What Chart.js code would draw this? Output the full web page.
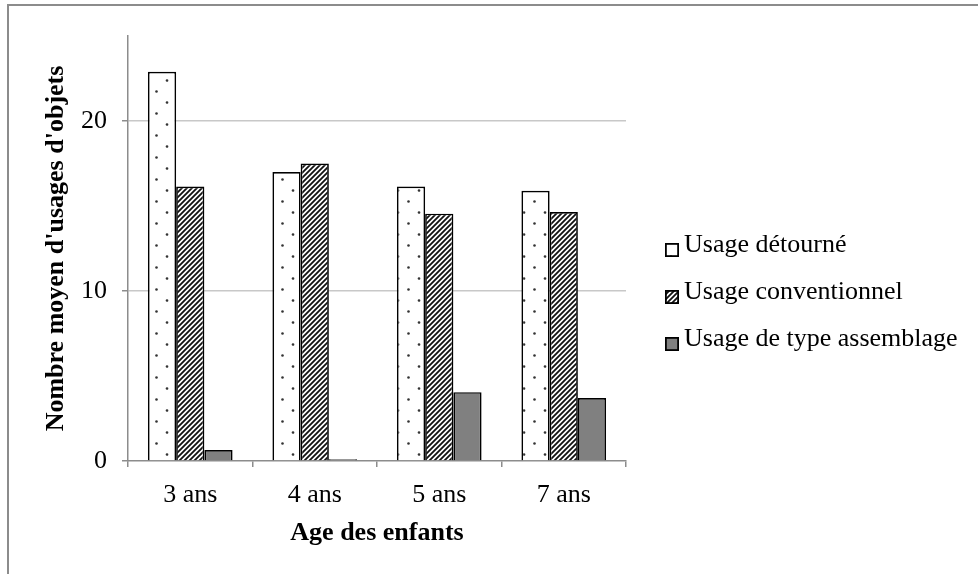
<!DOCTYPE html>
<html>
<head>
<meta charset="utf-8">
<script src="https://cdn.jsdelivr.net/npm/chart.js@4.4.0/dist/chart.umd.min.js"></script>
<style>
  html, body { margin: 0; padding: 0; background: #fff; }
  #wrap { width: 978px; height: 574px; }
</style>
</head>
<body>
<div id="wrap"><canvas id="usageChart" width="978" height="574"></canvas></div>
<script>
const ages = ['3 ans', '4 ans', '5 ans', '7 ans'];
const usageDetourne = [22.9, 17.0, 16.15, 15.9];
const usageConventionnel = [16.15, 17.5, 14.55, 14.65];
const usageAssemblage = [0.65, 0.1, 4.05, 3.7];
const seriesNames = ['Usage détourné', 'Usage conventionnel', 'Usage de type assemblage'];
const yTicks = [0, 10, 20];

const FONT = '"Liberation Serif", "Times New Roman", serif';

// pattern fills (dots / diagonal hatching)
function dotPattern() {
    const c = document.createElement('canvas');
    c.width = 21; c.height = 22;
    const g = c.getContext('2d');
    g.fillStyle = '#fff';
    g.fillRect(0, 0, 21, 22);
    g.fillStyle = '#333';
    g.beginPath(); g.arc(9.5, 3.5, 1.3, 0, Math.PI * 2); g.fill();
    g.beginPath(); g.arc(20, 14.5, 1.3, 0, Math.PI * 2); g.fill();
    g.beginPath(); g.arc(-1, 14.5, 1.3, 0, Math.PI * 2); g.fill();
    return g.createPattern(c, 'repeat');
}

function hatchPattern() {
    const s = 5;
    const c = document.createElement('canvas');
    c.width = s; c.height = s;
    const g = c.getContext('2d');
    g.fillStyle = '#fff';
    g.fillRect(0, 0, s, s);
    g.strokeStyle = '#111';
    g.lineWidth = 1.8;
    g.beginPath();
    g.moveTo(-1, s + 1); g.lineTo(s + 1, -1);
    g.moveTo(-1, 1); g.lineTo(1, -1);
    g.moveTo(s - 1, s + 1); g.lineTo(s + 1, s - 1);
    g.stroke();
    return g.createPattern(c, 'repeat');
}

// outer frame
const framePlugin = {
    id: 'frame',
    beforeDraw(chart) {
        const ctx = chart.ctx;
        ctx.save();
        ctx.strokeStyle = '#8c8c8c';
        ctx.lineWidth = 2;
        ctx.beginPath();
        ctx.moveTo(8, 574);
        ctx.lineTo(8, 5);
        ctx.lineTo(978, 5);
        ctx.stroke();
        ctx.restore();
    }
};

// legend on the right, drawn from the datasets
const legendPlugin = {
    id: 'sideLegend',
    afterDraw(chart) {
        const ctx = chart.ctx;
        ctx.save();
        ctx.font = '26px ' + FONT;
        ctx.textBaseline = 'alphabetic';
        ctx.textAlign = 'left';
        chart.data.datasets.forEach((ds, i) => {
            const base = 252 + i * 47;
            ctx.fillStyle = ds.backgroundColor;
            ctx.fillRect(665, base - 9, 14, 14);
            ctx.strokeStyle = '#000';
            ctx.lineWidth = 1.8;
            ctx.strokeRect(665.9, base - 8.1, 12.2, 12.2);
            ctx.fillStyle = '#000';
            ctx.fillText(ds.label, 684, base);
        });
        ctx.restore();
    }
};

document.addEventListener('DOMContentLoaded', () => {
    new Chart(document.getElementById('usageChart'), {
        type: 'bar',
        data: {
            labels: ages,
            datasets: [
                { label: seriesNames[0], data: usageDetourne, backgroundColor: dotPattern() },
                { label: seriesNames[1], data: usageConventionnel, backgroundColor: hatchPattern() },
                { label: seriesNames[2], data: usageAssemblage, backgroundColor: '#808080' }
            ]
        },
        options: {
            responsive: false,
            animation: false,
            devicePixelRatio: 1,
            layout: { padding: { top: 36, right: 352, left: 0, bottom: 0 } },
            datasets: {
                bar: {
                    borderColor: '#000',
                    borderWidth: 1.7,
                    categoryPercentage: 0.68,
                    barPercentage: 1
                }
            },
            plugins: {
                legend: { display: false },
                tooltip: { enabled: false }
            },
            scales: {
                x: {
                    afterFit: s => { s.height = 113; },
                    grid: {
                        drawOnChartArea: false,
                        tickLength: 6,
                        tickColor: '#8c8c8c',
                        lineWidth: 1.5
                    },
                    border: { color: '#8c8c8c', width: 1.5 },
                    ticks: { color: '#000', font: { family: FONT, size: 26 }, padding: 13 },
                    title: {
                        display: true,
                        text: 'Age des enfants',
                        color: '#000',
                        font: { family: FONT, size: 26, weight: 'bold' },
                        padding: { top: 0, bottom: 25 }
                    }
                },
                y: {
                    min: 0,
                    max: 25,
                    afterFit: s => { s.width = 128; },
                    afterBuildTicks: s => { s.ticks = yTicks.map(v => ({ value: v })); },
                    grid: {
                        color: ctx => ctx.tick && ctx.tick.value === 0 ? 'rgba(0,0,0,0)' : '#c8c8c8',
                        tickColor: '#8c8c8c',
                        tickLength: 6,
                        lineWidth: 1.5
                    },
                    border: { color: '#8c8c8c', width: 1.5 },
                    ticks: { color: '#000', font: { family: FONT, size: 26 }, padding: 15 },
                    title: {
                        display: true,
                        text: "Nombre moyen d'usages d'objets",
                        color: '#000',
                        font: { family: FONT, size: 26, weight: 'bold' },
                        padding: { top: 41, bottom: 0 }
                    }
                }
            }
        },
        plugins: [framePlugin, legendPlugin]
    });
});
</script>
</body>
</html>
